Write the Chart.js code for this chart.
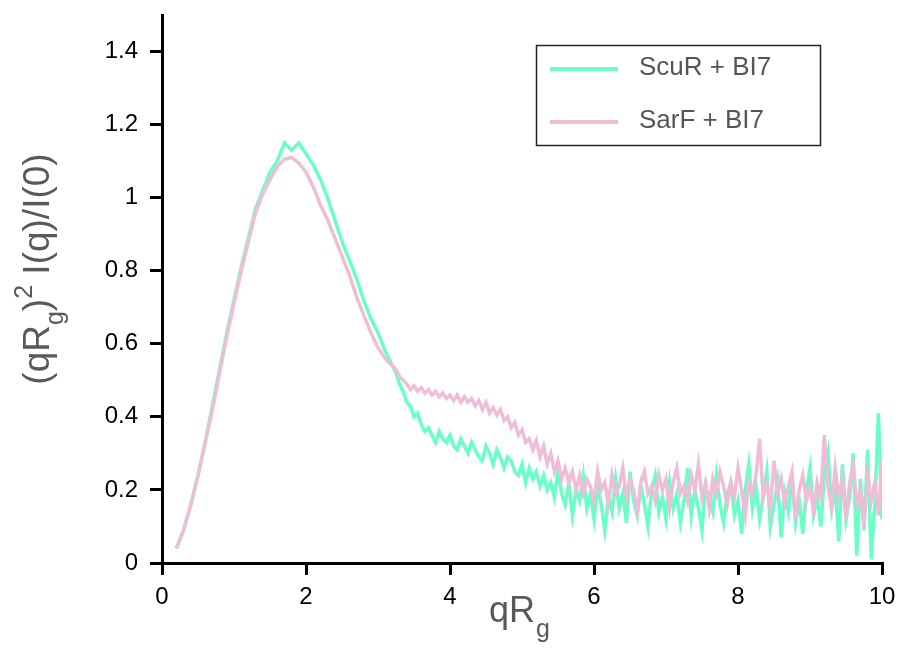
<!DOCTYPE html>
<html>
<head>
<meta charset="utf-8">
<script src="https://cdn.jsdelivr.net/npm/chart.js@4.4.1/dist/chart.umd.min.js"></script>
<style>
    html, body { margin: 0; padding: 0; background: #fff; }
    #wrap { width: 899px; height: 648px; position: relative; }
</style>
</head>
<body>
<div id="wrap"><canvas id="chart" width="899" height="648"></canvas></div>
<script>
// qRg values (x)
const qRg = [
    0.2,0.3,0.4,0.5,0.6,0.7,0.8,0.9,1.0,1.1,1.2,1.3,1.4,1.5,1.6,1.7,1.8,1.9,2.0,2.1,2.2,2.3,2.4,2.5,2.6,2.7,2.8,2.9,3.0,3.1,3.2,
    3.25,3.3,3.35,3.4,3.45,3.5,3.55,3.6,3.65,3.7,
    3.75,3.8,3.85,3.9,3.95,4.0,4.05,4.1,4.15,4.2,
    4.25,4.3,4.35,4.4,4.45,4.5,4.55,4.6,4.65,4.7,4.75,4.8,4.85,4.9,4.95,5.0,5.05,5.1,5.15,5.2,
    5.25,5.3,5.35,5.4,5.45,5.5,5.55,5.6,5.65,5.7,5.75,5.8,5.85,5.9,5.95,6.0,6.05,6.1,6.15,6.2,
    6.25,6.3,6.35,6.4,6.45,6.5,6.55,6.6,6.65,6.7,6.75,6.8,6.85,6.9,6.95,7.0,7.05,7.1,7.15,7.2,
    7.25,7.3,7.35,7.4,7.45,7.5,7.55,7.6,7.65,7.7,7.75,7.8,7.85,7.9,7.95,8.0,8.05,8.1,8.15,8.2,
    8.25,8.3,8.35,8.4,8.45,8.5,8.55,8.6,8.65,8.7,8.75,8.8,8.85,8.9,8.95,9.0,9.05,9.1,9.15,9.2,
    9.25,9.3,9.35,9.4,9.45,9.5,9.55,9.6,9.65,9.7,9.75,9.8,9.85,9.9,9.95,10.0
];

// ScuR + BI7
const scurY = [
    0.04,0.09,0.16,0.24,0.33,0.43,0.53,0.63,0.72,0.81,0.89,0.97,1.02,1.07,1.10,1.15,1.13,1.15,1.12,1.09,1.05,1.00,0.94,0.88,0.83,0.78,0.72,0.67,0.63,0.58,0.54,
    0.52,0.49,0.47,0.44,0.43,0.40,0.41,0.38,0.36,0.37,
    0.35,0.33,0.36,0.34,0.33,0.35,0.32,0.31,0.34,0.32,
    0.30,0.33,0.31,0.29,0.28,0.32,0.30,0.27,0.31,0.29,0.26,0.29,0.28,0.25,0.24,0.27,0.22,0.26,0.23,0.25,
    0.21,0.24,0.20,0.22,0.18,0.25,0.19,0.16,0.22,0.13,0.20,0.17,0.24,0.15,0.19,0.12,0.21,0.16,0.09,0.18,
    0.14,0.23,0.15,0.19,0.11,0.25,0.17,0.13,0.21,0.16,0.10,0.20,0.24,0.14,0.18,0.12,0.22,0.15,0.19,0.11,
    0.17,0.26,0.13,0.20,0.15,0.09,0.21,0.18,0.14,0.24,0.16,0.11,0.19,0.22,0.13,0.17,0.08,0.20,0.27,0.15,
    0.21,0.12,0.18,0.25,0.10,0.16,0.22,0.07,0.19,0.14,0.23,0.11,0.17,0.08,0.20,0.26,0.13,0.18,0.10,0.24,
    0.30,0.15,0.21,0.06,0.27,0.12,0.18,0.30,0.02,0.23,0.09,0.31,0.01,0.16,0.41,0.12
];

// SarF + BI7
const sarfY = [
    0.04,0.09,0.16,0.24,0.33,0.42,0.52,0.62,0.71,0.80,0.88,0.96,1.01,1.05,1.085,1.105,1.11,1.095,1.07,1.03,0.98,0.94,0.89,0.84,0.79,0.73,0.68,0.63,0.59,0.56,0.54,
    0.53,0.51,0.50,0.49,0.475,0.485,0.47,0.48,0.465,0.475,
    0.46,0.47,0.455,0.465,0.45,0.46,0.445,0.46,0.44,0.455,
    0.44,0.45,0.43,0.445,0.42,0.44,0.41,0.425,0.405,0.42,0.39,0.40,0.37,0.385,0.35,0.365,0.33,0.34,0.31,0.335,
    0.29,0.32,0.27,0.30,0.25,0.28,0.23,0.26,0.22,0.25,0.20,0.24,0.19,0.23,0.21,0.17,0.25,0.20,0.22,0.16,
    0.24,0.19,0.21,0.26,0.18,0.23,0.20,0.14,0.22,0.25,0.19,0.21,0.17,0.24,0.20,0.23,0.15,0.22,0.26,0.19,
    0.21,0.17,0.24,0.20,0.27,0.18,0.22,0.15,0.23,0.19,0.25,0.21,0.16,0.22,0.18,0.26,0.20,0.13,0.22,0.19,
    0.24,0.34,0.18,0.22,0.15,0.28,0.19,0.23,0.16,0.21,0.25,0.12,0.20,0.24,0.17,0.21,0.14,0.22,0.18,0.35,
    0.21,0.15,0.26,0.18,0.23,0.12,0.22,0.27,0.16,0.20,0.10,0.24,0.17,0.22,0.13,0.28
];

const seriesNames = ['ScuR + BI7', 'SarF + BI7'];
const seriesColors = ['#6affc6', '#efbdd8'];
const yTicks = [0, 0.2, 0.4, 0.6, 0.8, 1, 1.2, 1.4];
const xTicks = [0, 2, 4, 6, 8, 10];

const FONT = 'Arial, "Liberation Sans", sans-serif';

function toPoints(ys) {
    return qRg.map((x, i) => ({ x: x, y: ys[i] }));
}

// axis titles with sub/superscripts, plus the boxed legend
const decorations = {
    id: 'decorations',
    afterDraw(chart) {
        const ctx = chart.ctx;
        ctx.save();

        // x title: qR_g
        ctx.fillStyle = '#595959';
        ctx.textBaseline = 'alphabetic';
        ctx.font = '36px ' + FONT;
        const wMain = ctx.measureText('qR').width;
        ctx.font = '25px ' + FONT;
        const wSub = ctx.measureText('g').width;
        let x0 = 519 - (wMain + wSub) / 2;
        ctx.font = '36px ' + FONT;
        ctx.fillText('qR', x0, 622);
        ctx.font = '25px ' + FONT;
        ctx.fillText('g', x0 + wMain + 1, 637);

        // y title: (qR_g)^2 I(q)/I(0)
        ctx.translate(49, 269);
        ctx.rotate(-Math.PI / 2);
        const parts = [
            { t: '(qR', size: 37, dy: 0 },
            { t: 'g', size: 25, dy: 14 },
            { t: ')', size: 37, dy: 0 },
            { t: '2', size: 25, dy: -17 },
            { t: ' I(q)/I(0)', size: 37, dy: 0 }
        ];
        let total = 0;
        parts.forEach(p => {
            ctx.font = p.size + 'px ' + FONT;
            p.w = ctx.measureText(p.t).width;
            total += p.w;
        });
        let cx = -total / 2;
        parts.forEach(p => {
            ctx.font = p.size + 'px ' + FONT;
            ctx.fillText(p.t, cx, p.dy);
            cx += p.w;
        });
        ctx.restore();

        // legend box
        ctx.save();
        ctx.strokeStyle = '#222';
        ctx.lineWidth = 1.5;
        ctx.strokeRect(536.5, 45.5, 284, 100);
        const rows = [69, 122];
        seriesNames.forEach((name, i) => {
            ctx.strokeStyle = seriesColors[i];
            ctx.lineWidth = 4;
            ctx.beginPath();
            ctx.moveTo(550, rows[i]);
            ctx.lineTo(618, rows[i]);
            ctx.stroke();
            ctx.fillStyle = '#555';
            ctx.font = '26px ' + FONT;
            ctx.textBaseline = 'middle';
            ctx.fillText(name, 639, rows[i] - 1);
        });
        ctx.restore();
    }
};

new Chart(document.getElementById('chart'), {
    type: 'line',
    data: {
        datasets: [
            {
                label: seriesNames[1],
                data: toPoints(sarfY),
                borderColor: seriesColors[1],
                borderWidth: 3.5,
                pointRadius: 0,
                tension: 0
            },
            {
                label: seriesNames[0],
                data: toPoints(scurY),
                borderColor: seriesColors[0],
                borderWidth: 3.5,
                pointRadius: 0,
                tension: 0
            }
        ]
    },
    options: {
        responsive: false,
        animation: false,
        layout: { padding: { top: 15, right: 17, left: 0, bottom: 0 } },
        plugins: {
            legend: { display: false },
            tooltip: { enabled: false }
        },
        scales: {
            x: {
                type: 'linear',
                min: 0,
                max: 10,
                afterBuildTicks: s => { s.ticks = xTicks.map(v => ({ value: v })); },
                afterFit: s => { s.height = 85; s.paddingLeft = 0; s.paddingRight = 0; },
                border: { color: '#000', width: 3 },
                grid: { drawOnChartArea: false, drawTicks: true, tickLength: 12, color: '#000', lineWidth: 3 },
                ticks: {
                    color: '#000',
                    font: { size: 24, family: FONT },
                    padding: 8,
                    maxRotation: 0,
                    callback: v => String(v)
                }
            },
            y: {
                min: 0,
                max: 1.5,
                afterBuildTicks: s => { s.ticks = yTicks.map(v => ({ value: v })); },
                afterFit: s => { s.width = 162; s.paddingTop = 0; s.paddingBottom = 0; },
                border: { color: '#000', width: 3 },
                grid: { drawOnChartArea: false, drawTicks: true, tickLength: 12, color: '#000', lineWidth: 3 },
                ticks: {
                    color: '#000',
                    font: { size: 24, family: FONT },
                    padding: 12,
                    callback: v => String(Number(v.toFixed(1)))
                }
            }
        }
    },
    plugins: [decorations]
});
</script>
</body>
</html>
